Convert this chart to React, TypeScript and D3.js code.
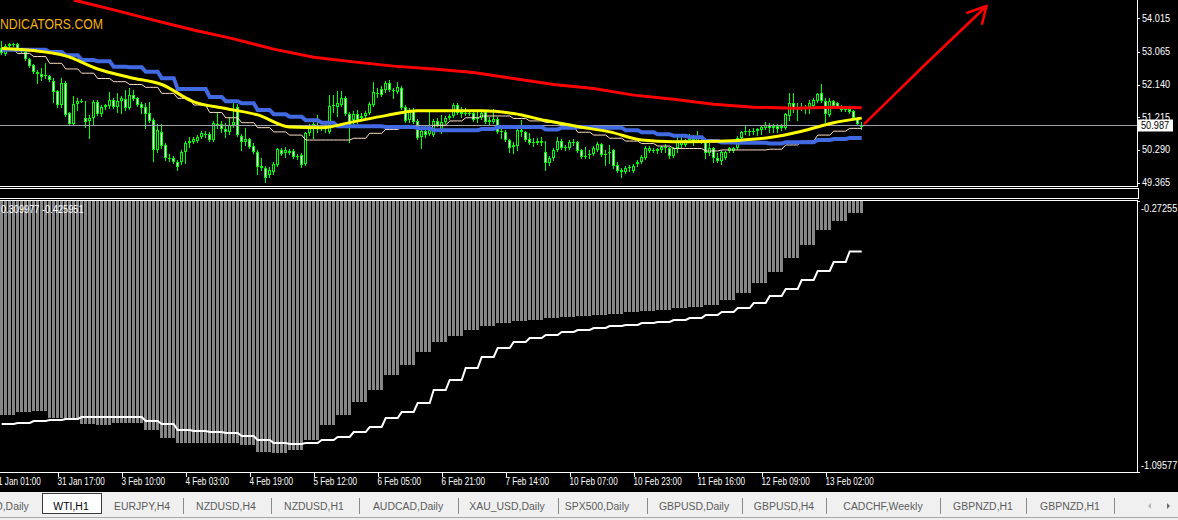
import React from "react";
import * as d3 from "d3";

// WTI H1 – candles, moving averages and a histogram oscillator

const openP = [53.17,53.00,53.23,53.28,53.28,53.14,53.06,52.86,52.69,52.49,
  52.44,52.38,52.38,52.24,51.95,51.56,52.18,51.33,51.02,51.59,
  51.67,51.19,51.11,51.19,51.64,51.30,51.50,51.53,51.70,51.50,
  51.67,51.73,51.47,51.84,51.76,51.59,51.50,51.33,51.13,50.29,
  50.80,50.43,50.06,50.06,49.95,49.95,50.23,50.48,50.51,50.54,
  50.65,50.74,50.74,50.57,51.02,51.02,50.88,50.80,50.99,51.50,
  50.68,50.51,50.60,50.40,50.23,49.83,49.78,49.58,49.66,49.86,
  50.29,50.20,50.26,50.26,50.09,50.14,49.89,50.77,50.91,50.91,
  50.94,50.94,50.80,51.53,51.50,51.56,51.76,51.30,51.13,51.30,
  51.19,51.25,51.33,51.56,51.90,52.01,51.98,52.18,51.98,51.93,
  52.04,51.50,51.13,51.42,51.11,50.65,50.82,50.74,50.71,51.11,
  50.80,51.08,51.19,51.25,51.56,51.36,51.30,51.33,51.33,51.16,
  51.19,51.36,51.13,51.08,51.16,50.82,50.80,50.57,50.37,50.40,
  50.85,50.80,50.60,50.51,50.48,50.54,50.23,49.92,50.06,50.29,
  50.54,50.37,50.34,50.51,50.51,50.29,50.12,50.14,50.17,50.29,
  50.45,50.17,50.20,50.29,49.86,49.72,49.66,49.78,49.69,49.89,
  49.95,50.06,50.26,50.29,50.26,50.29,50.37,50.34,50.12,50.34,
  50.43,50.43,50.57,50.60,50.54,50.54,50.54,50.20,50.34,50.06,
  49.97,50.06,50.26,50.26,50.34,50.62,50.80,50.80,50.82,50.82,
  50.85,50.91,50.99,50.91,50.96,50.91,50.91,51.25,51.61,51.45,
  51.50,51.50,51.50,51.53,51.67,51.90,51.67,51.28,51.67,51.61,
  51.50,51.47,51.45,51.39,51.19,50.94];

const highP = [53.37,53.28,53.31,53.31,53.31,53.17,53.12,52.89,52.72,52.55,
  52.61,52.75,52.41,52.32,51.98,52.32,52.24,51.36,51.81,51.76,
  51.73,51.67,51.28,51.70,51.70,51.56,51.59,51.93,51.76,51.90,
  51.81,51.98,52.04,51.98,51.79,51.64,51.61,51.64,51.19,51.02,
  51.02,50.48,50.17,50.12,50.00,50.29,50.54,50.65,50.65,50.71,
  50.82,50.82,50.80,51.11,51.36,51.11,51.05,51.22,51.61,51.59,
  50.74,50.91,50.62,50.48,50.29,50.06,49.83,49.80,49.95,50.34,
  50.34,50.37,50.31,50.31,50.17,50.20,50.80,51.02,51.08,51.28,
  50.99,51.05,51.84,51.84,51.95,51.95,51.81,51.36,51.39,51.42,
  51.33,51.39,51.64,52.21,52.04,52.10,52.24,52.27,52.04,52.21,
  52.10,51.56,51.47,51.47,51.16,50.88,50.99,51.36,51.16,51.19,
  51.28,51.25,51.30,51.61,51.61,51.50,51.47,51.39,51.36,51.36,
  51.39,51.42,51.22,51.45,51.22,50.88,50.85,50.60,50.51,50.94,
  51.13,50.82,50.77,50.62,50.62,50.65,50.54,50.12,50.34,50.65,
  50.60,50.43,50.57,50.60,50.54,50.31,50.37,50.29,50.40,50.51,
  50.48,50.29,50.43,50.31,49.95,49.78,49.83,49.86,49.89,50.00,
  50.14,50.40,50.40,50.34,50.34,50.40,50.45,50.37,50.37,50.65,
  50.74,50.60,50.74,50.71,50.82,50.65,50.57,50.51,50.37,50.20,
  50.29,50.26,50.37,50.37,50.68,50.82,50.96,50.88,50.91,50.91,
  50.96,51.08,51.05,51.02,51.02,51.02,51.33,51.90,51.90,51.61,
  51.61,51.56,51.70,51.76,51.90,52.15,51.76,51.76,51.70,51.64,
  51.56,51.50,51.50,51.42,51.22,51.08];

const lowP = [53.00,52.97,53.20,53.23,53.12,53.06,52.83,52.63,52.46,52.18,
  52.27,52.32,52.24,51.64,51.50,51.50,51.25,50.99,50.99,51.42,
  51.64,50.94,50.62,50.99,51.28,51.25,51.45,51.47,51.47,51.36,
  51.33,51.42,51.45,51.70,51.53,51.33,50.91,51.08,49.97,50.23,
  50.34,50.00,49.97,49.92,49.72,49.89,49.92,50.37,50.48,50.51,
  50.62,50.65,50.54,50.54,50.91,50.80,50.65,50.74,50.94,50.68,
  50.29,50.43,50.34,50.20,49.61,49.72,49.38,49.52,49.61,49.83,
  50.14,50.09,50.17,50.06,50.03,49.80,49.86,50.71,50.62,50.80,
  50.85,50.80,50.77,51.36,51.25,51.53,51.28,50.51,50.99,51.05,
  51.13,51.19,51.30,51.53,51.79,51.81,51.93,51.95,51.76,51.90,
  51.45,51.08,51.08,51.05,50.60,50.34,50.65,50.71,50.68,50.96,
  50.77,51.05,51.16,51.22,51.30,51.22,51.28,51.28,51.11,51.08,
  51.16,51.05,50.99,51.05,50.77,50.62,50.54,50.23,50.20,50.29,
  50.68,50.54,50.45,50.40,50.45,50.43,49.72,49.86,50.00,50.26,
  50.31,50.29,50.31,50.43,50.23,50.06,50.06,50.06,50.14,50.26,
  50.12,49.86,49.92,49.78,49.66,49.52,49.63,49.69,49.66,49.83,
  49.92,50.03,50.23,50.23,50.20,50.23,50.23,50.06,50.09,50.23,
  50.34,50.40,50.54,50.43,50.51,50.48,50.06,50.14,49.95,49.95,
  49.89,50.03,50.23,50.23,50.31,50.60,50.74,50.71,50.74,50.71,
  50.74,50.88,50.80,50.80,50.80,50.85,50.88,51.13,51.36,51.13,
  51.42,51.33,51.33,51.50,51.64,51.64,51.08,51.25,51.50,51.47,
  51.39,51.39,51.33,51.16,50.99,50.88];

const closeP = [53.03,53.23,53.28,53.26,53.14,53.12,52.86,52.66,52.49,52.44,
  52.35,52.41,52.27,51.93,51.56,52.18,51.28,51.02,51.59,51.67,
  51.64,51.08,51.19,51.64,51.30,51.50,51.56,51.70,51.50,51.67,
  51.76,51.47,51.84,51.73,51.56,51.47,51.30,51.11,50.29,50.85,
  50.40,50.06,50.03,49.95,49.80,50.23,50.48,50.54,50.60,50.65,
  50.77,50.71,50.57,51.05,50.99,50.88,50.80,50.99,51.08,50.71,
  50.51,50.60,50.37,50.23,49.80,49.78,49.49,49.72,49.89,50.31,
  50.17,50.29,50.20,50.09,50.12,49.86,50.77,50.91,51.02,50.96,
  50.91,50.96,51.53,51.56,51.61,51.76,51.30,50.94,51.30,51.13,
  51.25,51.33,51.59,51.93,51.87,51.84,52.18,51.98,51.95,52.07,
  51.47,51.11,51.42,51.08,50.62,50.82,50.71,50.85,51.11,50.99,
  51.08,51.19,51.25,51.56,51.33,51.30,51.33,51.30,51.13,51.19,
  51.33,51.08,51.08,51.16,50.80,50.80,50.57,50.34,50.43,50.85,
  50.80,50.57,50.48,50.48,50.54,50.48,49.92,50.06,50.29,50.54,
  50.34,50.34,50.51,50.48,50.26,50.09,50.09,50.17,50.34,50.45,
  50.14,50.14,50.23,49.83,49.69,49.66,49.78,49.80,49.83,49.95,
  50.09,50.34,50.34,50.26,50.31,50.37,50.34,50.12,50.34,50.51,
  50.51,50.57,50.65,50.54,50.65,50.51,50.20,50.34,50.06,49.97,
  50.23,50.23,50.34,50.34,50.62,50.80,50.82,50.82,50.80,50.88,
  50.94,50.99,50.91,50.96,50.88,50.96,51.30,51.61,51.45,51.50,
  51.47,51.49,51.61,51.70,51.87,51.67,51.30,51.67,51.53,51.50,
  51.42,51.42,51.36,51.19,51.02,50.987];

// moving averages
const redBars = [18,28,38,48,58,68,78,88,98,108,118,128,138,148,158,168,178,188,198,208,215];
const redMA = [54.53,54.25,53.96,53.68,53.43,53.14,52.91,52.78,52.66,52.58,52.48,52.31,52.14,52.03,51.84,51.72,51.58,51.50,51.47,51.50,51.48];

const yellowBars = [0,8,16,24,32,40,48,56,64,72,80,88,96,104,112,120,128,136,144,152,160,168,176,184,192,200,208,215];
const yellowMA = [53.16,53.10,52.95,52.58,52.34,52.14,51.65,51.46,51.28,50.94,50.92,51.09,51.26,51.40,51.40,51.40,51.32,51.12,50.95,50.80,50.57,50.52,50.53,50.56,50.64,50.82,51.06,51.19];

// H4 values (one per 4 hourly bars)
const blueH4 = [53.12,53.12,53.12,53.06,52.97,52.83,52.80,52.64,52.63,52.50,
  52.32,52.01,52.01,51.79,51.67,51.61,51.42,51.30,51.23,51.13,
  51.06,50.96,50.96,50.96,50.94,50.94,50.90,50.85,50.85,50.85,
  50.88,50.94,50.94,50.94,50.87,50.92,50.94,50.92,50.92,50.85,
  50.79,50.73,50.69,50.65,50.54,50.50,50.49,50.49,50.47,50.51,
  50.51,50.57,50.60,50.63];
const bisqueH4 = [53.12,53.02,52.93,52.74,52.58,52.46,52.31,52.22,52.14,52.06,
  51.89,51.75,51.56,51.35,51.20,51.06,50.92,50.80,50.71,50.57,
  50.57,50.57,50.62,50.76,50.87,50.92,50.87,50.99,51.11,51.20,
  51.25,51.25,51.18,51.11,51.07,50.97,50.79,50.71,50.62,50.54,
  50.47,50.40,50.33,50.33,50.26,50.29,50.29,50.29,50.31,50.43,
  50.54,50.71,50.82,50.90];

// oscillator sub-window
const histH4 = [-0.9226,-0.9135,-0.9105,-0.9317,-0.9378,-0.9500,-0.9530,-0.9469,-0.9469,-0.9682,
  -0.9925,-1.0077,-1.0077,-1.0077,-1.0077,-1.0137,-1.0350,-1.0381,-1.0289,-0.9986,
  -0.9530,-0.9226,-0.8831,-0.8467,-0.8011,-0.7707,-0.7312,-0.7009,-0.6826,-0.6644,
  -0.6523,-0.6432,-0.6371,-0.6340,-0.6280,-0.6249,-0.6219,-0.6188,-0.6158,-0.6097,
  -0.6067,-0.6036,-0.5976,-0.5945,-0.5885,-0.5733,-0.5520,-0.5216,-0.4882,-0.4457,
  -0.4062,-0.3606,-0.3333,-0.309977];
const signalH4 = [-0.9500,-0.9469,-0.9408,-0.9378,-0.9348,-0.9287,-0.9287,-0.9287,-0.9287,-0.9408,
  -0.9500,-0.9682,-0.9712,-0.9743,-0.9773,-0.9864,-0.9986,-1.0077,-1.0107,-1.0077,
  -0.9986,-0.9894,-0.9743,-0.9591,-0.9317,-0.9135,-0.8862,-0.8467,-0.8163,-0.7798,
  -0.7464,-0.7191,-0.7009,-0.6887,-0.6796,-0.6705,-0.6644,-0.6583,-0.6523,-0.6492,
  -0.6432,-0.6401,-0.6340,-0.6280,-0.6188,-0.6097,-0.5976,-0.5824,-0.5611,-0.5399,
  -0.5125,-0.4852,-0.4578,-0.425951];

const priceTicks = [54.015, 53.065, 52.14, 51.215, 50.29, 49.365];
const subTicks = [-0.27255, -1.09577];
const lastPrice = 50.987;

const timeLabels = ["31 Jan 01:00","31 Jan 17:00","3 Feb 10:00","4 Feb 03:00","4 Feb 19:00","5 Feb 12:00","6 Feb 05:00",
  "6 Feb 21:00","7 Feb 14:00","10 Feb 07:00","10 Feb 23:00","11 Feb 16:00","12 Feb 09:00","13 Feb 02:00"];
const timeLabelBars = [-2,14,30,46,62,78,94,110,126,142,158,174,190,206];

const tabNames = ["D,Daily","WTI,H1","EURJPY,H4","NZDUSD,H4","NZDUSD,H1","AUDCAD,Daily","XAU_USD,Daily",
  "SPX500,Daily","GBPUSD,Daily","GBPUSD,H4","CADCHF,Weekly","GBPNZD,H1","GBPNZD,H1"];

// layout only
const tabCenters = [12,71,142,226,314,408,507,597,694,784,883,983,1070];
const tabSeps = [183,271,359,458,558,647,742,826,940,1026,1114];

const FONT = "'Liberation Sans', Arial, Helvetica, sans-serif";
const AXIS_R = 1137;

export default function App() {
  const n = closeP.length;
  const bars = d3.range(n);
  const xB = d3.scaleLinear().domain([0, 215]).range([1.7, 861.7]);
  const yP = d3.scaleLinear().domain([49.27, 54.53]).range([186, 0]);
  const yS = d3.scaleLinear().domain([-1.09577, -0.27255]).range([472, 201]);
  const h4 = (arr: number[]) => bars.map(i => arr[Math.min(arr.length - 1, Math.floor(i / 4))]);

  const lineP = d3.line<[number, number]>().x(d => xB(d[0])).y(d => yP(d[1]));
  const smoothP = d3.line<[number, number]>().x(d => xB(d[0])).y(d => yP(d[1])).curve(d3.curveMonotoneX);
  const lineS = d3.line<[number, number]>().x(d => xB(d[0])).y(d => yS(d[1]));

  const blue = h4(blueH4), bisque = h4(bisqueH4), hist = h4(histH4), sig = h4(signalH4);

  const yLast = Math.round(yP(lastPrice)) + 0.5;

  // hand-drawn arrow in chart coordinates (bar index, price)
  const arrowShaft: [number, number][] = [[215.8, 51.04], [231, 52.72], [246.2, 54.36]];
  const arrowHead: [number, number][] = [[241.4, 54.17], [246.2, 54.36], [245.1, 53.86]];

  // indicator values shown in the sub-window header (leading minus sign is cut off at the edge)
  const header = `${Math.abs(histH4[histH4.length - 1]).toFixed(6)} ${signalH4[signalH4.length - 1].toFixed(6)}`;

  return (
    <svg width={1178} height={520} style={{ position: "absolute", left: 0, top: 0, display: "block", background: "#000" }}
      fontFamily={FONT}>
      <defs>
        <clipPath id="clipPrice"><rect x={0} y={0} width={AXIS_R} height={186} /></clipPath>
        <clipPath id="clipSub"><rect x={0} y={201} width={AXIS_R} height={271} /></clipPath>
      </defs>
      <rect x={0} y={0} width={1178} height={520} fill="#000" />

      {/* watermark */}
      <text x={0} y={29} fontSize={15} fill="#f2b20f" textLength={103} lengthAdjust="spacingAndGlyphs">NDICATORS.COM</text>

      {/* price window */}
      <g clipPath="url(#clipPrice)">
        {bars.map(i => {
          const o = openP[i], c = closeP[i];
          const hi = Math.max(highP[i], o, c), lo = Math.min(lowP[i], o, c);
          const xl = Math.floor(xB(i)) - 1;
          const top = Math.round(yP(Math.max(o, c))), bot = Math.round(yP(Math.min(o, c)));
          const bull = c >= o;
          return (
            <g key={i} shapeRendering="crispEdges">
              <line x1={xl + 1.5} x2={xl + 1.5} y1={Math.round(yP(hi))} y2={Math.round(yP(lo)) + 1} stroke="#00ff00" />
              {bot - top >= 2
                ? <rect x={xl + 0.5} y={top + 0.5} width={2} height={bot - top - 1} fill={bull ? "#000" : "#fff"} stroke="#00ff00" />
                : <line x1={xl} x2={xl + 3} y1={top + 0.5} y2={top + 0.5} stroke="#00ff00" />}
            </g>
          );
        })}
        <line x1={0} x2={AXIS_R} y1={yLast} y2={yLast} stroke="#9ea3aa" shapeRendering="crispEdges" />
        <path d={lineP(bars.map(i => [i, bisque[i]] as [number, number])) || ""} fill="none" stroke="#ffe0c8" strokeWidth={1} />
        <path d={lineP(bars.map(i => [i, blue[i]] as [number, number])) || ""} fill="none" stroke="#4169e1" strokeWidth={4} />
        <path d={smoothP(yellowBars.map((b, k) => [b, yellowMA[k]] as [number, number])) || ""} fill="none" stroke="#ffff00" strokeWidth={3} />
        <path d={lineP(redBars.map((b, k) => [b, redMA[k]] as [number, number])) || ""} fill="none" stroke="#ff0000" strokeWidth={3} />
        <path d={lineP(arrowShaft) || ""} fill="none" stroke="#ff0000" strokeWidth={2.6} strokeLinecap="round" />
        <path d={lineP(arrowHead) || ""} fill="none" stroke="#ff0000" strokeWidth={2.6} strokeLinecap="round" strokeLinejoin="round" />
      </g>

      {/* frames */}
      <g stroke="#fff" fill="none" shapeRendering="crispEdges">
        <line x1={AXIS_R + 0.5} x2={AXIS_R + 0.5} y1={0} y2={186} />
        <line x1={0} x2={AXIS_R + 1} y1={186.5} y2={186.5} />
        <rect x={-1} y={188.5} width={AXIS_R + 2} height={10} />
        <line x1={0} x2={AXIS_R + 1} y1={200.5} y2={200.5} />
        <line x1={AXIS_R + 0.5} x2={AXIS_R + 0.5} y1={200} y2={472} />
        <line x1={0} x2={AXIS_R + 1} y1={472.5} y2={472.5} />
      </g>

      {/* price axis */}
      {priceTicks.map(v => (
        <g key={v}>
          <line x1={AXIS_R} x2={AXIS_R + 3} y1={Math.round(yP(v)) + 0.5} y2={Math.round(yP(v)) + 0.5} stroke="#fff" shapeRendering="crispEdges" />
          <text transform={`translate(1142,${yP(v) + 3.5}) scale(0.92,1)`} fontSize={10} fill="#fff">{v.toFixed(3)}</text>
        </g>
      ))}
      <rect x={AXIS_R} y={yLast - 6} width={36} height={12} fill="#fff" />
      <text transform={`translate(1141,${yLast + 3.5}) scale(0.92,1)`} fontSize={10} fill="#000">{lastPrice.toFixed(3)}</text>

      {/* oscillator window */}
      <g clipPath="url(#clipSub)">
        {bars.map(i => (
          <rect key={i} x={Math.floor(xB(i)) - 1} y={201} width={3} height={Math.max(0, yS(hist[i]) - 201)} fill="#878787" shapeRendering="crispEdges" />
        ))}
        <path d={lineS(bars.map(i => [i, sig[i]] as [number, number])) || ""} fill="none" stroke="#fff" strokeWidth={2} />
      </g>
      <text transform="translate(1,213) scale(0.88,1)" fontSize={10.5} fill="#fff">{header}</text>
      {subTicks.map((v, k) => (
        <g key={v}>
          <line x1={AXIS_R} x2={AXIS_R + 3} y1={Math.round(yS(v)) + 0.5} y2={Math.round(yS(v)) + 0.5} stroke="#fff" shapeRendering="crispEdges" />
          <text transform={`translate(1141,${yS(v) + (k === 0 ? 10.5 : -3.5)}) scale(0.92,1)`} fontSize={10} fill="#fff">{v.toFixed(5)}</text>
        </g>
      ))}

      {/* time axis */}
      {timeLabelBars.map((b, k) => {
        const x = Math.round(xB(b)) + 0.5;
        return (
          <g key={k}>
            <line x1={x} x2={x} y1={472} y2={477} stroke="#fff" shapeRendering="crispEdges" />
            <text transform={`translate(${x - 1},485) scale(0.82,1)`} fontSize={10} fill="#fff">{timeLabels[k]}</text>
          </g>
        );
      })}

      {/* symbol tabs */}
      <rect x={0} y={492} width={1178} height={28} fill="#f0f0f0" />
      <line x1={0} x2={1178} y1={517.5} y2={517.5} stroke="#a8a8a8" />
      <rect x={42.5} y={493.5} width={59} height={20} fill="#fff" stroke="#3a3a3a" />
      {tabSeps.map(x => (
        <line key={x} x1={x + 0.5} x2={x + 0.5} y1={498} y2={514} stroke="#8a8a8a" />
      ))}
      {tabNames.map((t, k) => (
        <text key={k} transform={`translate(${tabCenters[k]},510) scale(0.95,1)`} textAnchor="middle" fontSize={11}
          fill={k === 1 ? "#000" : "#5c5c5c"}>{t}</text>
      ))}
      <path d="M1148,506 l3,-3 l0,6 z" fill="#b4b4b4" />
      <path d="M1170,506 l-3,-3 l0,6 z" fill="#6c6c6c" />
    </svg>
  );
}
